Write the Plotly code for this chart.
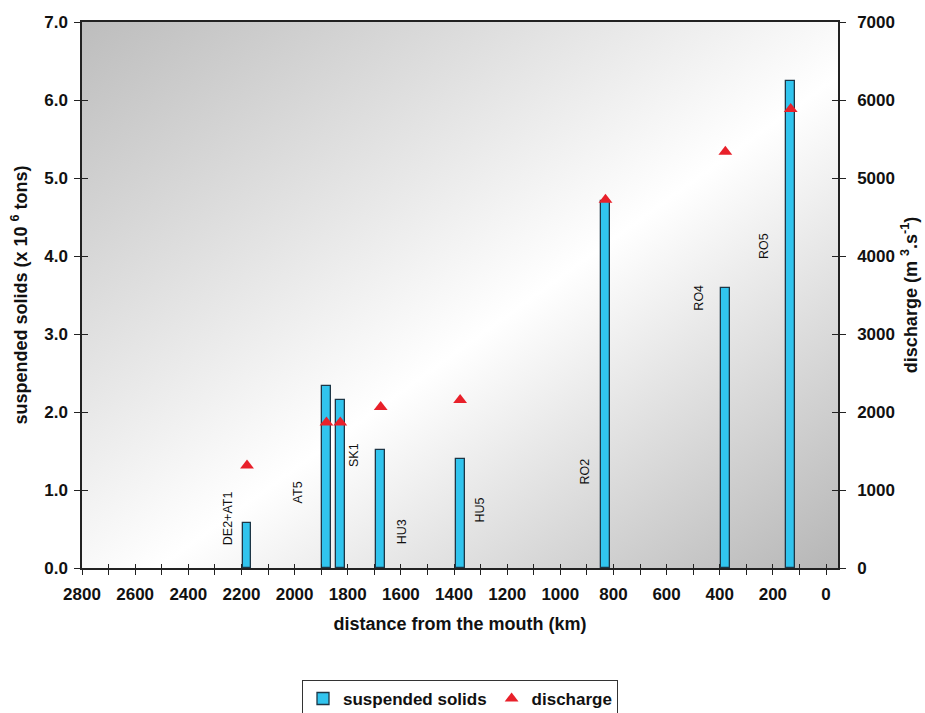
import base64
import plotly.graph_objects as go

# ---- data ----
stations = ["DE2+AT1", "AT5", "SK1", "HU3", "HU5", "RO2", "RO4", "RO5"]
distance_km = [2179, 1880, 1828, 1676, 1377, 830, 379, 133]
suspended_solids = [0.58, 2.33, 2.15, 1.51, 1.40, 4.70, 3.59, 6.24]   # x 10^6 tons
discharge = [1315, 1865, 1865, 2065, 2155, 4720, 5335, 5885]        # m3/s

# station label anchor points (km, left-axis units)
label_km = [2250, 1987, 1776, 1596, 1301, 906, 477, 233]
label_y = [0.64, 0.97, 1.45, 0.47, 0.74, 1.24, 3.47, 4.13]

x_ticks = [2800, 2600, 2400, 2200, 2000, 1800, 1600, 1400, 1200, 1000, 800, 600, 400, 200, 0]
y_left_ticks = [0, 1, 2, 3, 4, 5, 6, 7]
y_right_ticks = [0, 1000, 2000, 3000, 4000, 5000, 6000, 7000]

FONT = "Liberation Sans, Arial, sans-serif"
BAR_COLOR = "#31c4ee"
BAR_LINE = "#1d3646"
TRI_COLOR = "#e8202a"
AX_COLOR = "#222222"

fig = go.Figure()

fig.add_trace(go.Bar(
    x=distance_km, y=suspended_solids, width=33,
    name="suspended solids",
    marker=dict(color=BAR_COLOR, line=dict(color=BAR_LINE, width=1.3)),
    xaxis="x", yaxis="y",
))
fig.add_trace(go.Scatter(
    x=distance_km, y=discharge, mode="markers", name="discharge",
    marker=dict(symbol="triangle-up", size=12, color=TRI_COLOR, line=dict(width=0)),
    xaxis="x", yaxis="y2",
))
# helper traces so overlay tick axes render (ticks crossing the spines)
fig.add_trace(go.Scatter(x=[None], y=[None], xaxis="x3", yaxis="y3",
                         showlegend=False, hoverinfo="skip"))
fig.add_trace(go.Scatter(x=[None], y=[None], xaxis="x3", yaxis="y4",
                         showlegend=False, hoverinfo="skip"))

for name, kx, ky in zip(stations, label_km, label_y):
    fig.add_annotation(x=kx, y=ky, xref="x", yref="y", text=name, showarrow=False,
                       textangle=-90, font=dict(family=FONT, size=12.5, color="#111111"))

# diagonal gradient background as an SVG image
svg = ('<svg xmlns="http://www.w3.org/2000/svg" width="200" height="200" viewBox="0 0 200 200" '
       'preserveAspectRatio="none"><defs><linearGradient id="g" x1="0" y1="0" x2="1" y2="1">'
       '<stop offset="0" stop-color="#bdbdbd"/><stop offset="0.55" stop-color="#ffffff"/>'
       '<stop offset="1" stop-color="#b6b6b6"/></linearGradient></defs>'
       '<rect width="200" height="200" fill="url(#g)"/></svg>')
src = "data:image/svg+xml;base64," + base64.b64encode(svg.encode()).decode()
fig.add_layout_image(dict(source=src, xref="paper", yref="paper", x=0, y=1,
                          sizex=1, sizey=1, sizing="stretch", layer="below",
                          xanchor="left", yanchor="top"))

XRANGE = [2800, -45]
tickfont = dict(family=FONT, size=17, color="#111111", weight="bold")
titlefont = dict(family=FONT, size=18, color="#111111", weight="bold")

fig.update_layout(
    width=925, height=713,
    margin=dict(l=82, r=87, t=22, b=145, autoexpand=False),
    paper_bgcolor="white", plot_bgcolor="rgba(0,0,0,0)",
    font=dict(family=FONT),
    bargap=0,
    xaxis=dict(range=XRANGE, tickvals=x_ticks, ticktext=[str(v) for v in x_ticks],
               ticks="outside", ticklen=5, tickwidth=1, tickcolor=AX_COLOR,
               minor=dict(dtick=100, tick0=0, ticks="outside", ticklen=5, tickcolor=AX_COLOR, tickwidth=1),
               showline=True, linecolor=AX_COLOR, linewidth=1.5, mirror=True, automargin=False,
               showgrid=False, zeroline=False, tickfont=tickfont, ticklabelstandoff=5,
               title=dict(text="distance from the mouth (km)", font=titlefont, standoff=14)),
    yaxis=dict(range=[0, 7], tickvals=y_left_ticks, ticktext=[f"{v:.1f}" for v in y_left_ticks],
               ticks="outside", ticklen=6, tickcolor=AX_COLOR, automargin=False,
               showline=True, linecolor=AX_COLOR, linewidth=1.5, mirror=True,
               showgrid=False, zeroline=False, tickfont=tickfont, ticklabelstandoff=3,
               title=dict(text="suspended solids (x 10 <sup>6</sup> tons)", font=titlefont, standoff=12)),
    yaxis2=dict(range=[0, 7000], tickvals=y_right_ticks, overlaying="y", side="right", anchor="x",
                ticks="outside", ticklen=6, tickcolor=AX_COLOR, automargin=False,
                showline=True, linecolor=AX_COLOR, linewidth=1.5,
                showgrid=False, zeroline=False, tickfont=tickfont, ticklabelstandoff=8,
                title=dict(text="discharge (m <sup>3</sup>.s<sup>-1</sup>)", font=titlefont, standoff=10)),
    xaxis3=dict(range=XRANGE, overlaying="x", anchor="y3", side="bottom", dtick=100, tick0=0,
                ticks="inside", ticklen=4, tickcolor=AX_COLOR, showticklabels=False, automargin=False,
                showgrid=False, zeroline=False, showline=False),
    yaxis3=dict(range=[0, 7], overlaying="y", anchor="x3", side="left", dtick=1, automargin=False,
                ticks="inside", ticklen=6, tickcolor=AX_COLOR, showticklabels=False,
                showgrid=False, zeroline=False, showline=False),
    yaxis4=dict(range=[0, 7000], overlaying="y", anchor="x3", side="right", dtick=1000, automargin=False,
                ticks="inside", ticklen=6, tickcolor=AX_COLOR, showticklabels=False,
                showgrid=False, zeroline=False, showline=False),
    legend=dict(orientation="h", x=0.5, xanchor="center", y=-0.205, yanchor="top",
                bordercolor="#333333", borderwidth=1, bgcolor="white",
                font=dict(family=FONT, size=17, color="#111111", weight="bold"),
                itemwidth=30, tracegroupgap=0),
    showlegend=True,
)

fig.write_html("out.html", config={"displayModeBar": False},
               post_script="document.body.style.margin='0';")
